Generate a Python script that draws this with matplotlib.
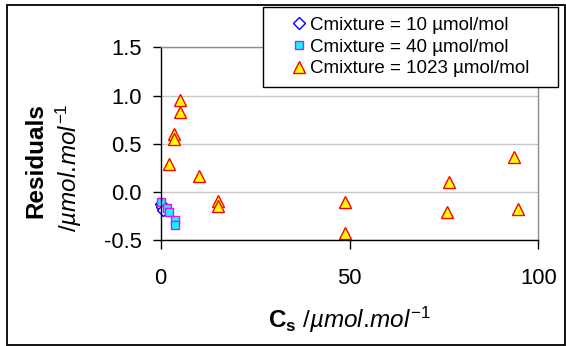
import matplotlib
matplotlib.use("Agg")
import matplotlib.pyplot as plt
from matplotlib.patches import Rectangle

plt.rcParams['font.family'] = ['Liberation Sans', 'DejaVu Sans']
plt.rcParams['mathtext.fontset'] = 'custom'
plt.rcParams['mathtext.rm'] = 'Liberation Sans'
plt.rcParams['mathtext.it'] = 'Liberation Sans:italic'
plt.rcParams['mathtext.bf'] = 'Liberation Sans:bold'
plt.rcParams['axes.unicode_minus'] = False

# residuals per mixture concentration
cs_10 = [0.0, 0.3, 0.7]
res_10 = [-0.12, -0.15, -0.19]

cs_40 = [0.1, 1.7, 2.3, 3.8, 3.8]
res_40 = [-0.10, -0.17, -0.21, -0.29, -0.34]

cs_1023 = [2.3, 3.5, 3.5, 5.1, 5.1, 10.2, 15.1, 15.1, 48.8, 48.8, 75.7, 76.3, 93.6, 94.6]
res_1023 = [0.29, 0.60, 0.55, 0.95, 0.83, 0.17, -0.09, -0.14, -0.10, -0.42, -0.21, 0.10, 0.36, -0.18]

labels = ["Cmixture = 10 µmol/mol", "Cmixture = 40 µmol/mol", "Cmixture = 1023 µmol/mol"]
yticks = [-0.5, 0.0, 0.5, 1.0, 1.5]
ytick_labels = ["-0.5", "0.0", "0.5", "1.0", "1.5"]
xticks = [0, 50, 100]

W, H = 566, 346
fig = plt.figure(figsize=(W / 100, H / 100), dpi=100)
ax = fig.add_axes([160.7 / W, 1 - 240.3 / H, (538.3 - 160.7) / W, (240.3 - 47.3) / H])

h1, = ax.plot(cs_10, res_10, ls='none', marker='D', ms=6.1, mfc='white', mec='#0000ff', mew=1.0, clip_on=False)
h2, = ax.plot(cs_40, res_40, ls='none', marker='s', ms=5.4, mfc='#00ffff', mec='#ff00ff', mew=1.0, clip_on=False)
h3, = ax.plot(cs_1023, res_1023, ls='none', marker='^', ms=8.6, mfc='#ffff00', mec='#ff0000', mew=1.0, clip_on=False)

ax.set_xlim(0, 100)
ax.set_ylim(-0.5, 1.5)
ax.set_xticks(xticks)
ax.set_yticks(yticks)
ax.set_yticklabels(ytick_labels)

ax.yaxis.grid(True, color='#c8c8c8', lw=1)
ax.set_axisbelow(True)
for s in ['left', 'bottom']:
    ax.spines[s].set_color('black')
    ax.spines[s].set_linewidth(1)
for s in ['top', 'right']:
    ax.spines[s].set_color('#8c8c8c')
    ax.spines[s].set_linewidth(1)

ax.tick_params(axis='y', direction='out', length=5.5, width=1, pad=8.4, labelsize=15.8)
ax.tick_params(axis='x', direction='out', length=6.2, width=1, pad=14, labelsize=15.8)

# axis titles (\! cancels the thin space mathtext puts after the dot)
unit = r"$\mathit{/µmol.\!mol}^{\mathit{-1}}$"
fig.text(349.5 / W, 1 - 328.3 / H, r"$\mathbf{C_s}$ " + unit,
         ha='center', va='baseline', fontsize=17.5)
fig.text(42 / W, 1 - 161 / H, "Residuals", rotation=90, rotation_mode='anchor',
         ha='center', va='baseline', fontsize=17.5, fontweight='bold')
fig.text(77 / W, 1 - 167.5 / H, unit, rotation=90,
         rotation_mode='anchor', ha='center', va='baseline', fontsize=17.5)

# legend box
fig.add_artist(Rectangle((262.7 / W, 1 - 87.3 / H), (557.7 - 262.7) / W, 80 / H,
                         transform=fig.transFigure, facecolor='white', edgecolor='black',
                         lw=1, zorder=2))
leg = fig.legend([h1, h2, h3], labels, loc='center left',
                 bbox_to_anchor=(289.6 / W, 1 - 47 / H), bbox_transform=fig.transFigure,
                 frameon=False, borderpad=0, borderaxespad=0, handlelength=1.0,
                 handletextpad=0.09, labelspacing=0.25, fontsize=13.5, numpoints=1)
leg.set_zorder(3)

# outer frame
fig.add_artist(Rectangle((6.7 / W, 1 / H), (565 - 6.7) / W, (345 - 4.7) / H,
                         transform=fig.transFigure, fill=False, edgecolor='black',
                         lw=1.3, zorder=5))

fig.savefig("out.png", dpi=100)
